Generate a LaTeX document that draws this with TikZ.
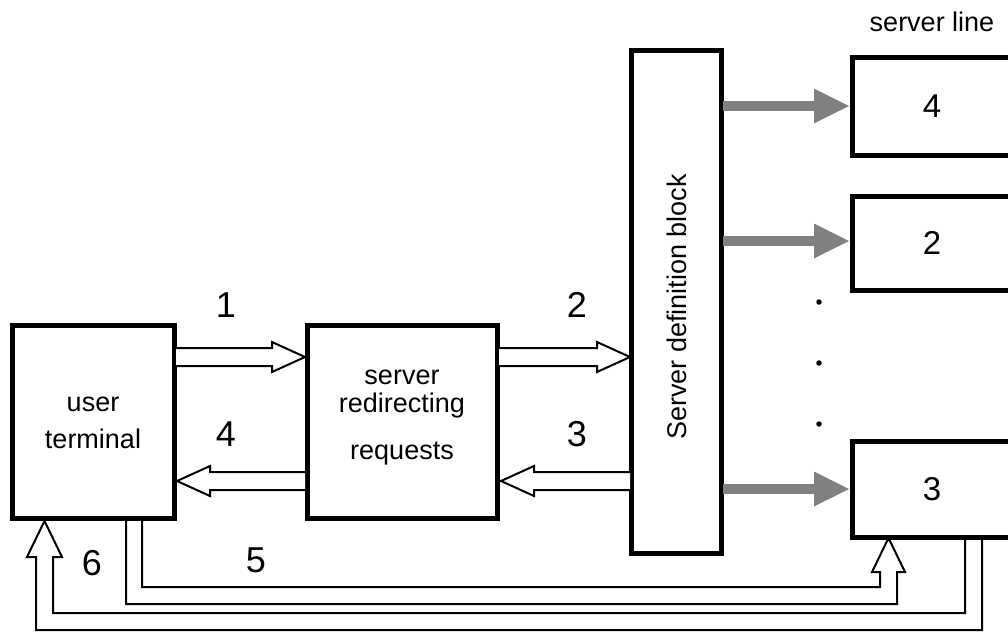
\documentclass[tikz,border=0pt]{standalone}
\usepackage{fontspec}
\setmainfont{Liberation Sans}
\usetikzlibrary{arrows.meta,calc}
\tikzset{
  blk/.style={draw, line width=5pt, inner sep=0pt},
  hollow/.style={draw, line width=2pt, fill=white, line join=miter},
  grayarr/.style={line width=10pt, -{Triangle[length=36pt,width=32pt]}, color=black!50},
  lbl/.style={font=\fontsize{27}{32}\selectfont, inner sep=0pt},
  num/.style={font=\fontsize{36}{40}\selectfont, inner sep=0pt},
  boxnum/.style={font=\fontsize{33}{36}\selectfont, inner sep=0pt},
  dotm/.style={circle, fill=black, inner sep=0pt, minimum size=5.5pt}
}
% hollow horizontal arrow: tail x, tip x, centre y
\newcommand{\hollowArrow}[3]{%
  \pgfmathsetmacro{\dir}{(#2>#1)?1:-1}%
  \pgfmathsetmacro{\hb}{#2-\dir*33}%
  \draw[hollow] (#1,#3-9) -- (\hb,#3-9) -- (\hb,#3-15) -- (#2,#3) -- (\hb,#3+15) -- (\hb,#3+9) -- (#1,#3+9);
}
\begin{document}
\begin{tikzpicture}[x=1pt,y=-1pt]
\useasboundingbox (0,0) rectangle (1008,632);
\clip (0,0) rectangle (1008,632);

% blocks
\draw[blk] (12,325) rectangle (174,518);
\node[lbl, align=center, font=\fontsize{27}{37}\selectfont] (uttext) at (93,423) {user\\terminal};

\draw[blk] (307,325) rectangle (497,518);
\node[lbl, align=center, font=\fontsize{27}{28}\selectfont] (srtext) at (402,418) {server\\redirecting\\[19pt]requests};

\draw[blk] (631,50) rectangle (721,553);
\node[lbl, rotate=90, font=\fontsize{27}{32}\selectfont] (sdtext) at (677,307) {Server definition block};

\draw[blk] (852,57) rectangle (1016,155);
\draw[blk] (852,196) rectangle (1016,290);
\draw[blk] (852,441) rectangle (1016,537);
\node[boxnum] (n4) at (932,106) {4};
\node[boxnum] (n2) at (932,243) {2};
\node[boxnum] (n3) at (932,489) {3};
\node[lbl] (sl) at (932,22) {server line};

% named anchor coordinates
\coordinate (sdR1) at (723,106);
\coordinate (s4L) at (850,106);
\coordinate (sdR2) at (723,241);
\coordinate (s2L) at (850,241);
\coordinate (sdR3) at (723,489);
\coordinate (s3L) at (850,489);

% gray arrows
\draw[grayarr] (sdR1) -- (s4L);
\draw[grayarr] (sdR2) -- (s2L);
\draw[grayarr] (sdR3) -- (s3L);

% dots
\node[dotm] (d1) at (819,302) {};
\node[dotm] (d2) at (819,363) {};
\node[dotm] (d3) at (819,424) {};

% hollow arrows between blocks
\hollowArrow{176}{305}{357}
\hollowArrow{305}{177}{481}
\hollowArrow{499}{630}{357}
\hollowArrow{630}{501}{481}

% arrow 5: user terminal -> server 3
\draw[hollow, fill=none] (126,520) -- (126,604) -- (897,604) -- (897,572) -- (905,572) -- (888.5,538) -- (872,572) -- (880,572) -- (880,587) -- (142,587) -- (142,520);

% arrow 6: server 3 -> user terminal
\draw[hollow, fill=none] (982,539) -- (982,630) -- (36,630) -- (36,557) -- (27,557) -- (44.5,521) -- (62,557) -- (53,557) -- (53,613) -- (965,613) -- (965,539);

% labels
\node[num] (l1) at (226,305) {1};
\node[num] (l4) at (226,434) {4};
\node[num] (l2) at (577,305) {2};
\node[num] (l3) at (577,434) {3};
\node[num] (l5) at (256,560) {5};
\node[num] (l6) at (92,563) {6};
\end{tikzpicture}
\end{document}
